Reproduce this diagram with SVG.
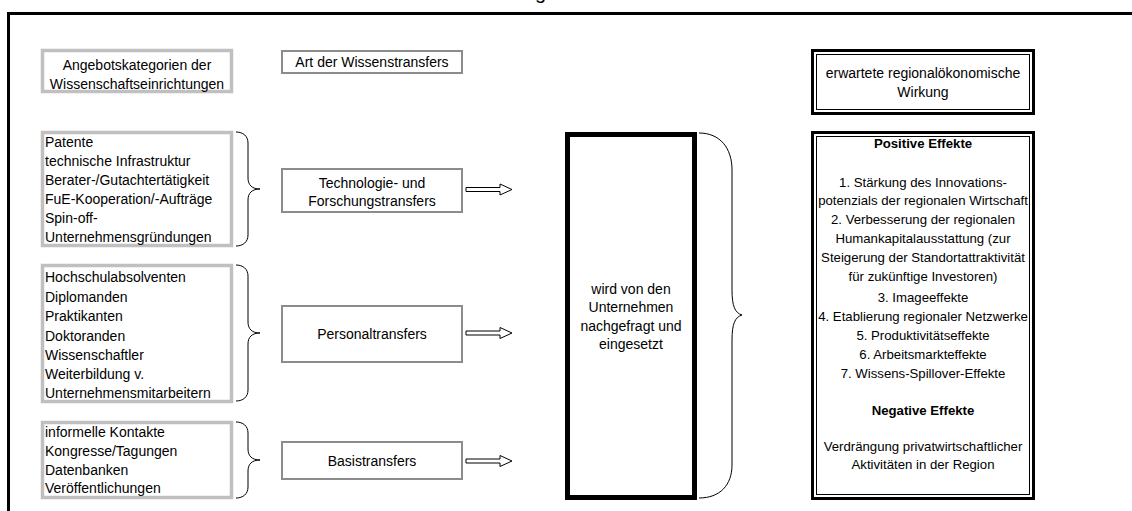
<svg xmlns="http://www.w3.org/2000/svg" width="1132" height="511" viewBox="0 0 1132 511">
<style>
text{font-family:"Liberation Sans",Arial,sans-serif;font-size:14px;fill:#000}
.c{text-anchor:middle}
.b{font-weight:bold}
.s{font-size:13.2px}
.lb{fill:#fff;stroke:#c0c0c0;stroke-width:3.5}
.mb{fill:#fff;stroke:#8c8c8c;stroke-width:2}
.br{fill:none;stroke:#000;stroke-width:1}
.ar{fill:#fff;stroke:#000;stroke-width:1}
.dbo{fill:#fff;stroke:#000;stroke-width:3}
.dbi{fill:none;stroke:#000;stroke-width:1}
</style>
<rect width="1132" height="511" fill="#fff"/>
<text x="535" y="-1" style="font-size:20px">g</text>
<path d="M8.5,511 V13.5 H1132" fill="none" stroke="#000" stroke-width="3"/>

<g id="header-angebot">
<rect class="lb" x="42.5" y="50.5" width="189" height="41"/>
<text class="c" x="137" y="70">Angebotskategorien der</text>
<text class="c" x="137" y="89">Wissenschaftseinrichtungen</text>
</g>
<g id="header-art">
<rect class="mb" x="282" y="51" width="180" height="22"/>
<text class="c" x="372" y="67">Art der Wissenstransfers</text>
</g>
<g id="header-wirkung">
<rect class="dbo" x="812.5" y="50.5" width="221" height="63"/>
<rect class="dbi" x="816.5" y="54.5" width="213" height="55"/>
<text class="c" x="923" y="78">erwartete regionalökonomische</text>
<text class="c" x="923" y="97">Wirkung</text>
</g>

<g id="list-tech">
<rect class="lb" x="42.5" y="132.5" width="189" height="113"/>
<text x="45" y="147">Patente</text>
<text x="45" y="166">technische Infrastruktur</text>
<text x="45" y="185">Berater-/Gutachtertätigkeit</text>
<text x="45" y="204">FuE-Kooperation/-Aufträge</text>
<text x="45" y="223">Spin-off-</text>
<text x="45" y="242">Unternehmensgründungen</text>
</g>
<g id="list-personal">
<rect class="lb" x="42.5" y="265.5" width="189" height="136"/>
<text x="45" y="282">Hochschulabsolventen</text>
<text x="45" y="302">Diplomanden</text>
<text x="45" y="321">Praktikanten</text>
<text x="45" y="341">Doktoranden</text>
<text x="45" y="360">Wissenschaftler</text>
<text x="45" y="379">Weiterbildung v.</text>
<text x="45" y="398">Unternehmensmitarbeitern</text>
</g>
<g id="list-basis">
<rect class="lb" x="42.5" y="422.5" width="189" height="75"/>
<text x="45" y="437">informelle Kontakte</text>
<text x="45" y="456">Kongresse/Tagungen</text>
<text x="45" y="475">Datenbanken</text>
<text x="45" y="493">Veröffentlichungen</text>
</g>

<g id="transfer-tech">
<rect class="mb" x="282" y="169" width="180" height="43"/>
<text class="c" x="372" y="188">Technologie- und</text>
<text class="c" x="372" y="206">Forschungstransfers</text>
</g>
<g id="transfer-personal">
<rect class="mb" x="282" y="306" width="180" height="56"/>
<text class="c" x="372" y="339">Personaltransfers</text>
</g>
<g id="transfer-basis">
<rect class="mb" x="282" y="442" width="180" height="37"/>
<text class="c" x="372" y="466">Basistransfers</text>
</g>

<g id="nachfrage">
<rect x="567.5" y="134.5" width="127" height="363" fill="#fff" stroke="#000" stroke-width="5"/>
<text class="c" x="631" y="294">wird von den</text>
<text class="c" x="631" y="312">Unternehmen</text>
<text class="c" x="631" y="331">nachgefragt und</text>
<text class="c" x="631" y="349">eingesetzt</text>
</g>

<g id="effekte">
<rect class="dbo" x="812.5" y="132.5" width="221" height="366"/>
<rect class="dbi" x="816.5" y="136.5" width="213" height="358"/>
<text class="c b s" x="923" y="148">Positive Effekte</text>
<text class="c s" x="923" y="187">1. Stärkung des Innovations-</text>
<text class="c s" x="923" y="205">potenzials der regionalen Wirtschaft</text>
<text class="c s" x="923" y="224">2. Verbesserung der regionalen</text>
<text class="c s" x="923" y="243">Humankapitalausstattung (zur</text>
<text class="c s" x="923" y="262">Steigerung der Standortattraktivität</text>
<text class="c s" x="923" y="281">für zukünftige Investoren)</text>
<text class="c s" x="923" y="302">3. Imageeffekte</text>
<text class="c s" x="923" y="321">4. Etablierung regionaler Netzwerke</text>
<text class="c s" x="923" y="340">5. Produktivitätseffekte</text>
<text class="c s" x="923" y="359">6. Arbeitsmarkteffekte</text>
<text class="c s" x="923" y="378">7. Wissens-Spillover-Effekte</text>
<text class="c b s" x="923" y="415">Negative Effekte</text>
<text class="c s" x="923" y="451">Verdrängung privatwirtschaftlicher</text>
<text class="c s" x="923" y="469">Aktivitäten in der Region</text>
</g>

<g id="connectors">
<path class="br" d="M236,132 C243,132 248,136 248,143 V178 C248,185 252,189 260,189 C252,189 248,193 248,200 V235 C248,242 243,246 236,246"/>
<path class="br" d="M236,265 C243,265 248,269 248,276 V322 C248,329 252,333 260,333 C252,333 248,337 248,344 V390 C248,397 243,401 236,401"/>
<path class="br" d="M236,422 C243,422 248,426 248,433 V449 C248,456 252,460 260,460 C252,460 248,464 248,471 V487 C248,494 243,498 236,498"/>
<path class="ar" d="M466,187.5 H500 V184 L512,189.5 L500,195 V191.5 H466 Z"/>
<path class="ar" d="M466,331 H500 V327.5 L512,333 L500,338.5 V335 H466 Z"/>
<path class="ar" d="M466,459 H500 V455.5 L512,461 L500,466.5 V463 H466 Z"/>
<path class="br" d="M699,133 C720,133 732,148 732,170 V290 C732,306 735,313 742,315 C735,317 732,324 732,340 V465 C732,485 720,498 699,498"/>
</g>
</svg>
